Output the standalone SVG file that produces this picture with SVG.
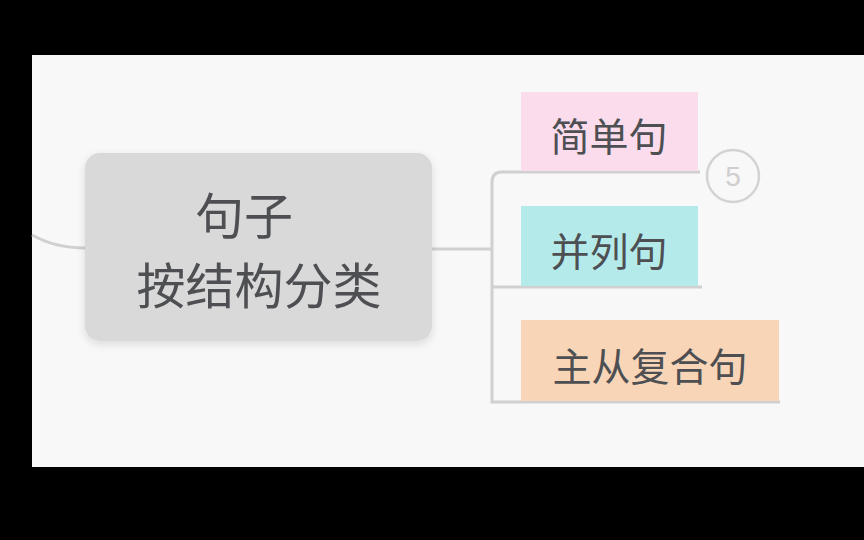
<svg xmlns="http://www.w3.org/2000/svg" width="864" height="540" viewBox="0 0 864 540">
<defs>
<style>
.t{font-family:"Noto Sans CJK SC","Noto Sans",sans-serif;fill:#4d4f52;}
.c{fill:none;stroke:#d0d0d0;stroke-width:3;}
</style>
<filter id="sh" x="-10%" y="-10%" width="120%" height="125%">
<feDropShadow dx="0" dy="3" stdDeviation="4" flood-color="#000" flood-opacity="0.12"/>
</filter>
</defs>
<rect x="0" y="0" width="864" height="540" fill="#000"/>
<rect x="32" y="55" width="832" height="412" fill="#f8f8f8"/>
<g id="connectors">
<path class="c" d="M32 235 Q55 248 85 248"/>
<path class="c" d="M432 249 H492"/>
<path class="c" d="M700 172 H502 Q492 172 492 182 V402 H780"/>
<path class="c" d="M492 287 H702"/>
</g>
<g id="root">
<rect x="85" y="153" width="347" height="188" rx="15" fill="#d9d9d9" filter="url(#sh)"/>
<text class="t" x="244" y="234" font-size="49" text-anchor="middle">句子</text>
<text class="t" x="259" y="304" font-size="49" text-anchor="middle">按结构分类</text>
</g>
<g id="simple">
<rect x="521" y="92" width="177" height="79" fill="#fadcec"/>
<text class="t" x="609" y="151" font-size="39" text-anchor="middle">简单句</text>
</g>
<g id="compound">
<rect x="521" y="206" width="177" height="80" fill="#b4eaea"/>
<text class="t" x="609" y="266" font-size="39" text-anchor="middle">并列句</text>
</g>
<g id="complex">
<rect x="521" y="320" width="258" height="81" fill="#f8d5b6"/>
<text class="t" x="650" y="381" font-size="39" text-anchor="middle">主从复合句</text>
</g>
<g id="badge">
<circle cx="733" cy="176" r="26" fill="#f8f8f8" stroke="#d3d3d3" stroke-width="2.5"/>
<text x="733" y="186" font-size="28" text-anchor="middle" font-family="'Liberation Sans',sans-serif" fill="#cfcfcf">5</text>
</g>
</svg>
